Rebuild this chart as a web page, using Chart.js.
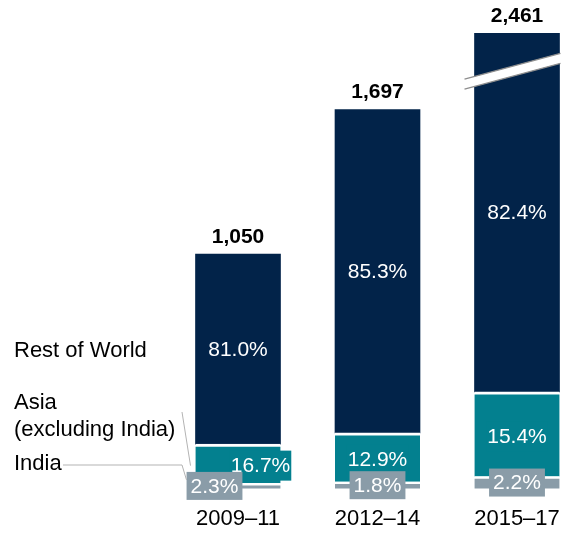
<!DOCTYPE html>
<html>
<head>
<meta charset="utf-8">
<script src="https://cdn.jsdelivr.net/npm/chart.js@4.4.1/dist/chart.umd.min.js"></script>
<style>
  html, body { margin: 0; padding: 0; background: #fff; }
  #wrap { width: 561px; height: 538px; position: relative; }
</style>
</head>
<body>
<div id="wrap"><canvas id="chart"></canvas></div>
<script>
const categories = ['2009–11', '2012–14', '2015–17']
const totals = [1050, 1697, 2461]
const indiaPct = [2.3, 1.8, 2.2]
const asiaPct = [16.7, 12.9, 15.4]
const restPct = [81.0, 85.3, 82.4]
const seriesNames = ['India', 'Asia (excluding India)', 'Rest of World']

const NAVY = '#022349'
const TEAL = '#03808f'
const GREY = '#8a9ca8'
const FONT = "'Liberation Sans', Arial, sans-serif"
const Y_MAX = 2040

const part = pcts => pcts.map((p, i) => totals[i] * p / 100)
const fmtPct = v => v.toFixed(1) + '%'
const fmtTotal = v => v.toLocaleString('en-US')

// per-bar label nudges (first bar is too short for stacked labels)
const tealShift = [22.5, 0, 0]
const greyShift = [-23.5, 0, 0]

function box(ctx, text, x, y, bg, padX, h) {
  const w = ctx.measureText(text).width + padX * 2
  ctx.fillStyle = bg
  ctx.fillRect(x - w / 2, y - h / 2, w, h)
  ctx.fillStyle = '#fff'
  ctx.fillText(text, x, y + 1)
}

const labelsPlugin = {
  id: 'labels',
  afterDraw(chart) {
    const { ctx, chartArea } = chart
    const india = chart.getDatasetMeta(0).data
    const asia = chart.getDatasetMeta(1).data
    const rest = chart.getDatasetMeta(2).data
    ctx.save()
    ctx.textAlign = 'center'
    ctx.textBaseline = 'middle'

    categories.forEach((c, i) => {
      const r = rest[i], a = asia[i], g = india[i]
      const top = Math.max(r.y, chartArea.top)

      // break mark on truncated bar
      if (totals[i] > Y_MAX) {
        const x0 = r.x - r.width / 2 - 10, x1 = r.x + r.width / 2 + 1
        const yc = chartArea.top + 37, slope = -0.27, half = 5
        const yAt = x => yc + (x - r.x) * slope
        ctx.fillStyle = '#fff'
        ctx.beginPath()
        ctx.moveTo(x0, yAt(x0) - half)
        ctx.lineTo(x1, yAt(x1) - half)
        ctx.lineTo(x1, yAt(x1) + half)
        ctx.lineTo(x0, yAt(x0) + half)
        ctx.closePath()
        ctx.fill()
        ctx.strokeStyle = '#8e8e8e'
        ctx.lineWidth = 1.3
        ctx.beginPath()
        ctx.moveTo(x0, yAt(x0) - half); ctx.lineTo(x1, yAt(x1) - half)
        ctx.moveTo(x0, yAt(x0) + half); ctx.lineTo(x1, yAt(x1) + half)
        ctx.stroke()
      }

      ctx.font = '21px ' + FONT
      ctx.fillStyle = '#fff'
      ctx.fillText(fmtPct(restPct[i]), r.x, (top + r.base) / 2 + 1)
      box(ctx, fmtPct(asiaPct[i]), a.x + tealShift[i], (a.y + a.base) / 2 + 2, TEAL, 1, 30)
      box(ctx, fmtPct(indiaPct[i]), g.x + greyShift[i], (g.y + g.base) / 2, GREY, 4, 28)

      ctx.font = 'bold 21px ' + FONT
      ctx.fillStyle = '#000'
      ctx.fillText(fmtTotal(totals[i]), r.x, top - 17)
    })

    // series labels on the left, tied to the first bar
    const r0 = rest[0], a0 = asia[0], g0 = india[0]
    const left0 = r0.x - r0.width / 2
    ctx.font = '22px ' + FONT
    ctx.textAlign = 'left'
    ctx.fillStyle = '#000'
    ctx.fillText(seriesNames[2], 14, (r0.y + r0.base) / 2 + 2)
    ctx.fillText('Asia', 14, 403)
    ctx.fillText('(excluding India)', 14, 430)
    ctx.fillText(seriesNames[0], 14, 464)

    ctx.strokeStyle = '#b3b3b3'
    ctx.lineWidth = 1
    ctx.beginPath()
    ctx.moveTo(182, 412)
    ctx.lineTo(left0 - 5, (a0.y + a0.base) / 2 + 2)
    ctx.moveTo(63, 465)
    ctx.lineTo(182, 465)
    ctx.lineTo(left0 - 9, (g0.y + g0.base) / 2 - 6)
    ctx.stroke()
    ctx.restore()
  }
}

new Chart(document.getElementById('chart'), {
  type: 'bar',
  data: {
    labels: categories,
    datasets: [
      {
        label: seriesNames[0],
        data: part(indiaPct),
        backgroundColor: GREY,
        borderColor: '#fff',
        borderWidth: { top: 2.5, right: 0, bottom: 0, left: 0 },
        borderSkipped: false,
      },
      {
        label: seriesNames[1],
        data: part(asiaPct),
        backgroundColor: TEAL,
        borderColor: '#fff',
        borderWidth: { top: 3, right: 0, bottom: 0, left: 0 },
        borderSkipped: false,
      },
      {
        label: seriesNames[2],
        data: part(restPct),
        backgroundColor: NAVY,
        borderWidth: 0,
      },
    ],
  },
  options: {
    responsive: true,
    maintainAspectRatio: false,
    animation: false,
    datasets: {
      bar: {
        barThickness: 85,
        clip: { left: false, right: false, top: 0, bottom: false },
      },
    },
    layout: { padding: { left: 238, right: 44, top: 33, bottom: -11 } },
    plugins: {
      legend: { display: false },
      tooltip: { enabled: false },
    },
    scales: {
      x: {
        stacked: true,
        offset: false,
        grid: { display: false, drawTicks: false, tickLength: 0 },
        border: { display: false },
        ticks: { color: '#000', font: { family: FONT, size: 22 }, padding: 17, maxRotation: 0 },
        afterFit(scale) {
          scale.paddingLeft = 0
          scale.paddingRight = 0
        },
      },
      y: {
        stacked: true,
        display: false,
        min: 0,
        max: Y_MAX,
      },
    },
  },
  plugins: [labelsPlugin],
})
</script>
</body>
</html>
